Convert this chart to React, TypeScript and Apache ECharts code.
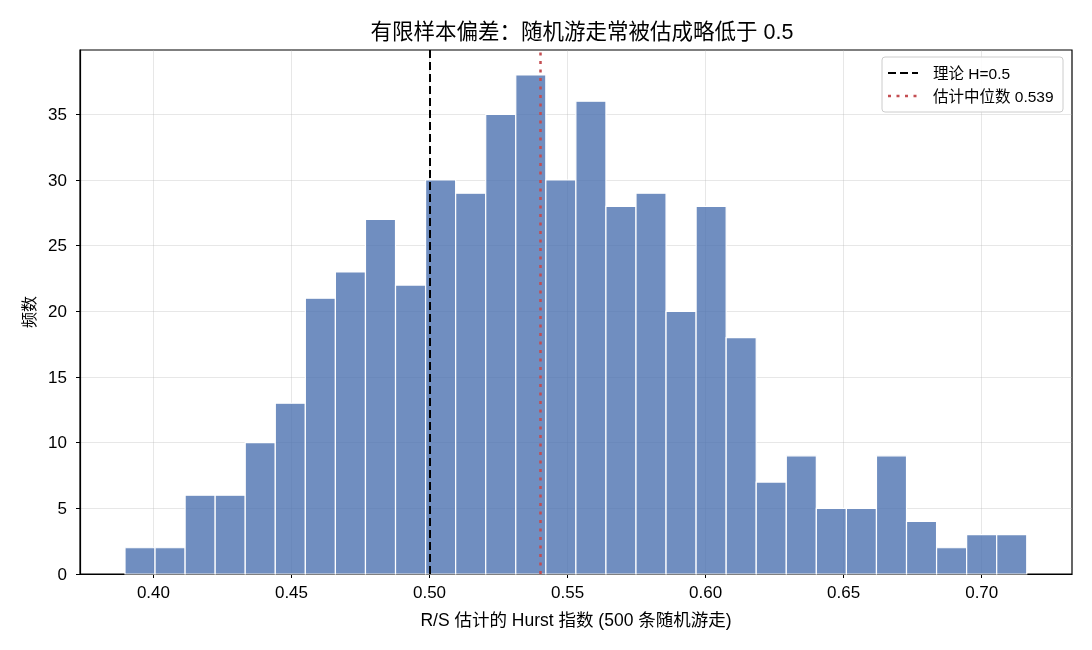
import React, { useEffect, useRef } from "react";
import * as echarts from "echarts";

// Histogram data
const binStart = 0.3897;
const binWidth = 0.010887;
const counts = [2, 2, 6, 6, 10, 13, 21, 23, 27, 22, 30, 29, 35, 38, 30, 36, 28, 29, 20, 28, 18, 7, 9, 5, 5, 9, 4, 2, 3, 3];
const xTicks = [0.4, 0.45, 0.5, 0.55, 0.6, 0.65, 0.7];
const yTicks = [0, 5, 10, 15, 20, 25, 30, 35];
const theoryH = 0.5;
const medianH = 0.539;
const xMin = 0.3734;
const xMax = 0.7327;
const yMax = 39.9;

const titleText = "有限样本偏差：随机游走常被估成略低于 0.5";
const xName = "R/S 估计的 Hurst 指数 (500 条随机游走)";
const yName = "频数";
const theoryLabel = "理论 H=0.5";
const medianLabel = "估计中位数 0.539";

const FONT = "'Liberation Sans', 'Noto Sans CJK SC', sans-serif";
const RED = "#c44e52";

export default function App() {
  const ref = useRef<HTMLDivElement>(null);
  useEffect(() => {
    if (!ref.current) return;
    const chart = echarts.init(ref.current, undefined, { renderer: "svg" });
    const bins = counts.map((c, i) => [binStart + i * binWidth, binStart + (i + 1) * binWidth, c]);
    chart.setOption({
      animation: false,
      textStyle: { fontFamily: FONT, color: "#000" },
      title: {
        text: titleText,
        left: 577,
        textAlign: "center",
        top: 16,
        textStyle: { fontFamily: FONT, fontSize: 21.5, fontWeight: "normal", color: "#000" },
      },
      graphic: [
        {
          type: "rect",
          shape: { x: 882, y: 57, width: 181, height: 55, r: 3 },
          style: { fill: "rgba(255,255,255,0.85)", stroke: "#cccccc", lineWidth: 1 },
          z: 100,
        },
        {
          type: "line",
          shape: { x1: 888, y1: 73, x2: 918, y2: 73 },
          style: { stroke: "#000", lineWidth: 2, lineDash: [8, 4] },
          z: 101,
        },
        {
          type: "text",
          x: 933,
          y: 73,
          style: { text: theoryLabel, fontFamily: FONT, fontSize: 15.5, fill: "#000", verticalAlign: "middle" },
          z: 101,
        },
        {
          type: "line",
          shape: { x1: 888, y1: 96, x2: 918, y2: 96 },
          style: { stroke: RED, lineWidth: 2.5, lineDash: [3, 5.5] },
          z: 101,
        },
        {
          type: "text",
          x: 933,
          y: 96,
          style: { text: medianLabel, fontFamily: FONT, fontSize: 15.5, fill: "#000", verticalAlign: "middle" },
          z: 101,
        },
      ],
      grid: {
        left: 80,
        right: 20,
        top: 50,
        bottom: 76,
        show: true,
        borderColor: "#000",
        borderWidth: 1.2,
        backgroundColor: "transparent",
      },
      xAxis: {
        type: "value",
        min: xMin,
        max: xMax,
        name: xName,
        nameLocation: "middle",
        nameGap: 37,
        nameTextStyle: { fontFamily: FONT, fontSize: 17.5, color: "#000" },
        axisLine: { show: true, lineStyle: { color: "#000", width: 1.2 } },
        axisTick: { show: true, length: 4, customValues: xTicks, lineStyle: { color: "#000" } },
        axisLabel: {
          customValues: xTicks,
          formatter: (v: number) => v.toFixed(2),
          fontFamily: FONT,
          fontSize: 17,
          color: "#000",
          margin: 10,
        },
        splitLine: { show: true, lineStyle: { color: "#b0b0b0", opacity: 0.3, width: 1 } },
      },
      yAxis: {
        type: "value",
        min: 0,
        max: yMax,
        name: yName,
        nameLocation: "middle",
        nameGap: 43,
        nameRotate: 90,
        nameTextStyle: { fontFamily: FONT, fontSize: 16, color: "#000" },
        axisLine: { show: true, lineStyle: { color: "#000", width: 1.2 } },
        axisTick: { show: true, length: 4, customValues: yTicks, lineStyle: { color: "#000" } },
        axisLabel: {
          customValues: yTicks,
          fontFamily: FONT,
          fontSize: 17,
          color: "#000",
          margin: 13,
        },
        splitLine: { show: true, lineStyle: { color: "#b0b0b0", opacity: 0.3, width: 1 } },
      },
      series: [
        {
          type: "custom",
          name: "hist",
          data: bins,
          renderItem: (params: any, api: any) => {
            const x0 = api.value(0);
            const x1 = api.value(1);
            const c = api.value(2);
            const p0 = api.coord([x0, c]);
            const p1 = api.coord([x1, 0]);
            return {
              type: "rect",
              shape: { x: p0[0], y: p0[1], width: p1[0] - p0[0], height: p1[1] - p0[1] },
              style: { fill: "rgba(76,114,176,0.8)", stroke: "#ffffff", lineWidth: 1.2 },
            };
          },
          z: 2,
        },
        {
          type: "line",
          name: theoryLabel,
          data: [],
          symbol: "none",
          markLine: {
            silent: true,
            symbol: ["none", "none"],
            label: { show: false },
            lineStyle: { color: "#000", width: 2, type: [8, 4] },
            data: [{ xAxis: theoryH }],
          },
          z: 5,
        },
        {
          type: "line",
          name: medianLabel,
          data: [],
          symbol: "none",
          markLine: {
            silent: true,
            symbol: ["none", "none"],
            label: { show: false },
            lineStyle: { color: RED, width: 2.5, type: [3, 5.5] },
            data: [{ xAxis: medianH }],
          },
          z: 5,
        },
      ],
    });
    return () => chart.dispose();
  }, []);
  return <div ref={ref} style={{ position: "fixed", left: 0, top: 0, width: 1092, height: 650 }} />;
}
